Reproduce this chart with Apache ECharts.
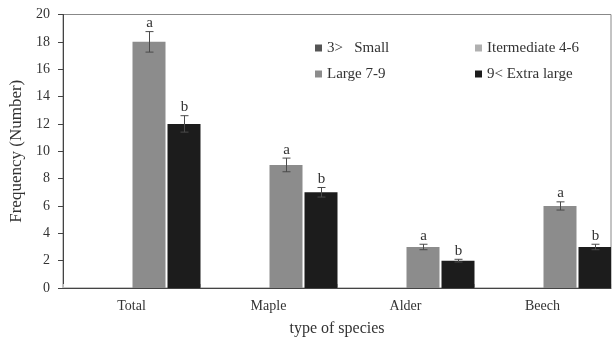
<!DOCTYPE html>
<html><head><meta charset="utf-8">
<script src="https://cdn.jsdelivr.net/npm/echarts@6/dist/echarts.min.js"></script>
<style>html,body{margin:0;padding:0;background:#fff}#c{width:612px;height:338px}</style>
</head><body><div id="c"></div>
<script>
var categories = ['Total', 'Maple', 'Alder', 'Beech'];
var seriesNames = ['3>   Small', 'Itermediate 4-6', 'Large 7-9', '9< Extra large'];
var smallVals = [0, 0, 0, 0];
var intermediateVals = [0, 0, 0, 0];
var largeVals = [18, 9, 3, 6];
var extraLargeVals = [12, 7, 2, 3];
var largeErr = [0.75, 0.5, 0.2, 0.3];
var extraLargeErr = [0.6, 0.35, 0.1, 0.2];
var largeLetters = ['a', 'a', 'a', 'a'];
var extraLargeLetters = ['b', 'b', 'b', 'b'];
var yTicks = [0, 2, 4, 6, 8, 10, 12, 14, 16, 18, 20];

var FONT = '"Liberation Serif", "DejaVu Serif", serif';
var BARW = 33, GAP = 2;
var colors = ['#555555', '#b0b0b0', '#8c8c8c', '#1c1c1c'];

function errSeries(vals, errs, letters, slot) {
  var offset = GAP / 2 + BARW / 2 + (slot - 2) * (BARW + GAP);
  return {
    type: 'custom', z: 10, silent: true,
    data: vals.map(function (v, i) { return [i, v, errs[i]]; }),
    encode: { x: 0, y: 1 },
    renderItem: function (params, api) {
      var i = api.value(0), v = api.value(1), e = api.value(2);
      var top = api.coord([i, v + e]), bot = api.coord([i, v - e]);
      var x = Math.round(top[0] + offset) + 0.5;
      var st = { stroke: '#4a4a4a', lineWidth: 1 };
      return { type: 'group', children: [
        { type: 'line', shape: { x1: x, y1: top[1], x2: x, y2: bot[1] }, style: st },
        { type: 'line', shape: { x1: x - 4, y1: top[1], x2: x + 4, y2: top[1] }, style: st },
        { type: 'line', shape: { x1: x - 4, y1: bot[1], x2: x + 4, y2: bot[1] }, style: st },
        { type: 'text', x: x, y: top[1] - 1, style: { text: letters[i], fill: '#333', font: '15px ' + FONT, textAlign: 'center', textVerticalAlign: 'bottom' } }
      ] };
    }
  };
}

var chart = echarts.init(document.getElementById('c'), null, { renderer: 'canvas' });
var valueSets = [smallVals, intermediateVals, largeVals, extraLargeVals];
var barSeries = seriesNames.map(function (n, k) {
  return { name: n, type: 'bar', data: valueSets[k], barWidth: BARW, barGap: (GAP / BARW * 100) + '%',
    itemStyle: { color: colors[k] } };
});
var legendCommon = { orient: 'vertical', top: 35.5, itemWidth: 7, itemHeight: 7, itemGap: 11, icon: 'rect',
  textStyle: { fontFamily: FONT, fontSize: 15, color: '#333' } };
chart.setOption({
  animation: false,
  textStyle: { fontFamily: FONT },
  grid: { left: 63, right: 1, top: 14.5, bottom: 50, show: true, borderColor: '#888', borderWidth: 1,
    outerBoundsMode: 'none', containLabel: false },
  legend: [
    Object.assign({ data: [seriesNames[0], seriesNames[2]], left: 310 }, legendCommon),
    Object.assign({ data: [seriesNames[1], seriesNames[3]], left: 470 }, legendCommon)
  ],
  xAxis: {
    type: 'category', data: categories,
    name: 'type of species', nameLocation: 'middle', nameGap: 33,
    nameTextStyle: { fontFamily: FONT, fontSize: 16, color: '#333' },
    axisLine: { lineStyle: { color: '#444', width: 1 } },
    axisTick: { show: true, inside: true, length: 4, lineStyle: { color: '#bbb' } },
    axisLabel: { fontFamily: FONT, fontSize: 14, color: '#333', margin: 11 }
  },
  yAxis: {
    type: 'value', min: 0, max: 20, interval: 2,
    name: 'Frequency (Number)', nameLocation: 'middle', nameGap: 34,
    nameTextStyle: { fontFamily: FONT, fontSize: 17, color: '#333' },
    axisLine: { show: true, lineStyle: { color: '#444', width: 1 } },
    axisTick: { show: true, length: 5, lineStyle: { color: '#444' } },
    splitLine: { show: false },
    axisLabel: { fontFamily: FONT, fontSize: 14, color: '#333', margin: 13,
      formatter: function (v) { return yTicks.indexOf(v) >= 0 ? String(v) : ''; } }
  },
  series: barSeries.concat([
    errSeries(largeVals, largeErr, largeLetters, 2),
    errSeries(extraLargeVals, extraLargeErr, extraLargeLetters, 3)
  ])
});
</script></body></html>
